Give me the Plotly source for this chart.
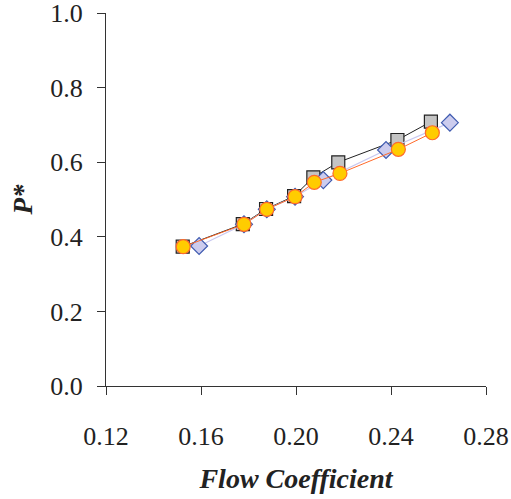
import plotly.graph_objects as go

# Series A: gray squares
sq_x = [0.1523, 0.1776, 0.1874, 0.1992, 0.2073, 0.2178, 0.2427, 0.2568]
sq_y = [0.3735, 0.434, 0.4745, 0.509, 0.5595, 0.5997, 0.6595, 0.7086]

# Series B: lavender diamonds
dm_x = [0.1592, 0.1781, 0.1877, 0.1996, 0.2115, 0.2379, 0.2648]
dm_y = [0.3753, 0.4335, 0.4737, 0.5075, 0.552, 0.6327, 0.706]

# Series C: yellow circles
ci_x = [0.1525, 0.1781, 0.1877, 0.1996, 0.2077, 0.2185, 0.2431, 0.2574]
ci_y = [0.3735, 0.4335, 0.4737, 0.5075, 0.546, 0.570, 0.6345, 0.679]

x_ticks = [0.12, 0.16, 0.20, 0.24, 0.28]
y_ticks = [0.0, 0.2, 0.4, 0.6, 0.8, 1.0]

fig = go.Figure()
fig.add_trace(go.Scatter(
    x=sq_x, y=sq_y, mode="lines+markers", name="Series A",
    line=dict(color="#222222", width=1),
    marker=dict(symbol="square", size=13, color="#C4C4C4",
                line=dict(color="#222222", width=1.2))))
fig.add_trace(go.Scatter(
    x=dm_x, y=dm_y, mode="lines+markers", name="Series B",
    line=dict(color="#C8C8F0", width=1.2),
    marker=dict(symbol="diamond", size=13, color="#CCCCEE",
                line=dict(color="#3F5BB0", width=1.2))))
fig.add_trace(go.Scatter(
    x=ci_x, y=ci_y, mode="lines+markers", name="Series C",
    line=dict(color="#FF6A2A", width=1),
    marker=dict(symbol="circle", size=14, color="#FFCC00",
                line=dict(color="#FF6A2A", width=1.2))))

font_family = "Liberation Serif, Times New Roman, serif"
fig.update_layout(
    width=511, height=499,
    margin=dict(l=106, r=25, t=13, b=113, autoexpand=False),
    paper_bgcolor="white", plot_bgcolor="white",
    showlegend=False,
    font=dict(family=font_family, size=26, color="#222222"),
)
fig.update_xaxes(
    range=[0.12, 0.28], tickvals=x_ticks,
    ticktext=[f"{v:.2f}" for v in x_ticks],
    showgrid=False, zeroline=False, automargin=False,
    showline=True, linecolor="#333333", linewidth=1,
    ticks="outside", ticklen=8, tickcolor="#333333",
    tickfont=dict(family=font_family, size=26),
    ticklabelstandoff=19, ticklabeloverflow="allow",
    title=dict(text="<b><i>Flow Coefficient</i></b>", standoff=18,
               font=dict(family=font_family, size=28)),
)
fig.update_yaxes(
    range=[0, 1.0], tickvals=y_ticks,
    ticktext=[f"{v:.1f}" for v in y_ticks],
    showgrid=False, zeroline=False, automargin=False,
    showline=True, linecolor="#333333", linewidth=1,
    ticks="outside", ticklen=8, tickcolor="#333333",
    tickfont=dict(family=font_family, size=26),
    ticklabelstandoff=9, ticklabeloverflow="allow",
    title=dict(text="<b><i>P*</i></b>", standoff=9,
               font=dict(family=font_family, size=27)),
)
fig.write_html("out.html", config={"displayModeBar": False},
               post_script="document.body.style.margin='0';")
